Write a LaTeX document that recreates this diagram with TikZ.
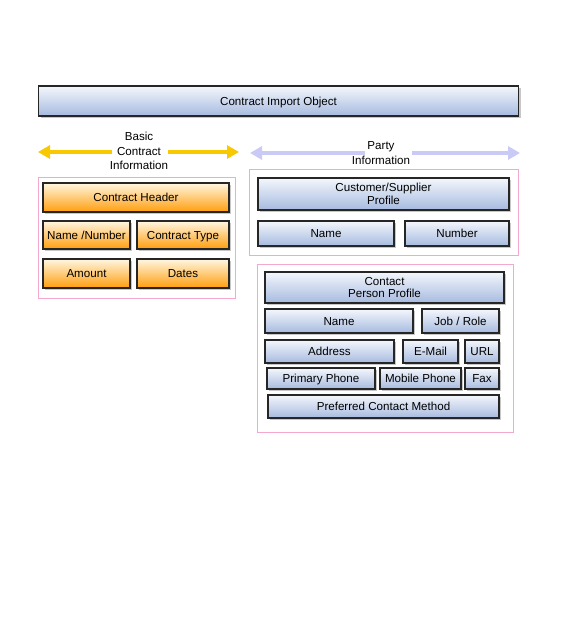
\documentclass[tikz,border=0pt]{standalone}
\usepackage{fontspec}
\setmainfont{Liberation Sans}
\usetikzlibrary{arrows.meta,shadows}
\definecolor{bluetop}{HTML}{F4F7FC}
\definecolor{bluebot}{HTML}{A6BADF}
\definecolor{orgtop}{HTML}{FFF6E2}
\definecolor{orgbot}{HTML}{FF9E0C}
\definecolor{frame}{HTML}{F4A8D0}
\definecolor{yel}{HTML}{F8C800}
\definecolor{lav}{HTML}{CACAF6}
\tikzset{
  boxbase/.style={draw=black!85, line width=1.1pt, inner sep=0pt, align=center,
    font=\fontsize{11.6}{12.8}\selectfont,
    drop shadow={shadow xshift=2pt, shadow yshift=-2pt, fill=black!22, opacity=1}},
  oneline/.style={text height=8.3pt, text depth=0pt},
  bluebox/.style={boxbase, top color=bluetop, bottom color=bluebot},
  orgbox/.style={boxbase, oneline, top color=orgtop, bottom color=orgbot},
  blue1/.style={bluebox, oneline},
  groupframe/.style={draw=frame, line width=0.7pt},
  lbl/.style={align=center, font=\fontsize{11.6}{14.5}\selectfont, inner sep=1pt},
  yarrow/.style={draw=yel, line width=3.5pt, -{Triangle[length=12pt,width=13pt]}},
  larrow/.style={draw=lav, line width=3.5pt, -{Triangle[length=12pt,width=13pt]}}
}
\begin{document}
\begin{tikzpicture}[x=1pt,y=-1pt]
\useasboundingbox (0,0) rectangle (576,624);
% Top
\node[blue1, minimum width=480pt, minimum height=30pt] (cio) at (278.5,101) {Contract Import Object};
% Arrow labels
\node[lbl] (basic) at (139,151) {Basic\\Contract\\Information};
\node[lbl] (party) at (381,153) {Party\\Information};
\coordinate (bl) at (38,152);
\coordinate (br) at (239,152);
\coordinate (pl) at (250,153);
\coordinate (pr) at (520,153);
\coordinate (bl0) at (112,152);
\coordinate (br0) at (168,152);
\coordinate (pl0) at (365,153);
\coordinate (pr0) at (412,153);
\draw[yarrow] (bl0) -- (bl);
\draw[yarrow] (br0) -- (br);
\draw[larrow] (pl0) -- (pl);
\draw[larrow] (pr0) -- (pr);
% Frames
\draw[groupframe] (38,177) rectangle (235,298);
\draw[groupframe] (249,169) rectangle (518,255);
\draw[groupframe] (257,264) rectangle (513,432);
% Left group
\node[orgbox, minimum width=186pt, minimum height=29pt] (ch) at (136,197.5) {Contract Header};
\node[orgbox, minimum width=87pt, minimum height=28pt] (nn) at (86.5,235) {Name /Number};
\node[orgbox, minimum width=92pt, minimum height=28pt] (ct) at (183,235) {Contract Type};
\node[orgbox, minimum width=87pt, minimum height=29pt] (am) at (86.5,273.5) {Amount};
\node[orgbox, minimum width=92pt, minimum height=29pt] (dt) at (183,273.5) {Dates};
% Customer group
\node[bluebox, minimum width=251pt, minimum height=32pt] (csp) at (383.5,194) {Customer/Supplier\\Profile};
\node[blue1, minimum width=136pt, minimum height=25pt] (cname) at (326,233.5) {Name};
\node[blue1, minimum width=104pt, minimum height=25pt] (cnum) at (457,233.5) {Number};
% Contact group
\node[bluebox, minimum width=239pt, minimum height=31pt] (cpp) at (384.5,287.5) {Contact\\Person Profile};
\node[blue1, minimum width=148pt, minimum height=24pt] (pname) at (339,321) {Name};
\node[blue1, minimum width=77pt, minimum height=24pt] (job) at (460.5,321) {Job / Role};
\node[blue1, minimum width=129pt, minimum height=23pt] (addr) at (329.5,351.5) {Address};
\node[blue1, minimum width=55pt, minimum height=23pt] (mail) at (430.5,351.5) {E-Mail};
\node[blue1, minimum width=34pt, minimum height=23pt] (url) at (482,351.5) {URL};
\node[blue1, minimum width=108pt, minimum height=21pt] (pp) at (321,378.5) {Primary Phone};
\node[blue1, minimum width=81pt, minimum height=21pt] (mp) at (420.5,378.5) {Mobile Phone};
\node[blue1, minimum width=34pt, minimum height=21pt] (fax) at (482,378.5) {Fax};
\node[blue1, minimum width=231pt, minimum height=23pt] (pcm) at (383.5,406.5) {Preferred Contact Method};
\end{tikzpicture}
\end{document}
